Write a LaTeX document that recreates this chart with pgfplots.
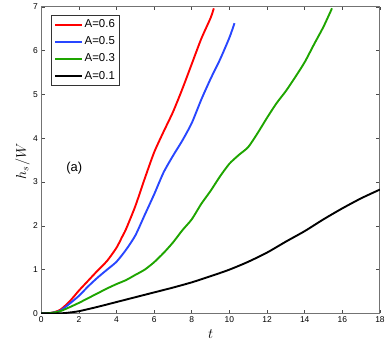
\documentclass[border=0pt]{standalone}
\usepackage{pgfplots}
\pgfplotsset{compat=1.18}
\usepackage{fontspec}
\setmainfont{Liberation Sans}
\definecolor{cred}{RGB}{255,0,0}
\definecolor{cblue}{RGB}{40,70,255}
\definecolor{cgreen}{RGB}{30,165,0}
\begin{document}
\begin{tikzpicture}
\begin{axis}[
  at={(0,0)}, anchor=south west,
  scale only axis,
  width=339.4bp, height=307bp,
  xmin=0, xmax=18, ymin=0, ymax=7,
  xtick={0,2,...,18}, ytick={0,1,...,7},
  tick align=inside,
  tick pos=both,
  major tick length=3.5bp,
  tick style={black!70, line width=0.6pt},
  axis line style={black!55, line width=1bp},
  /pgf/number format/assume math mode=true,
  tick label style={font=\fontsize{8.5}{10}\selectfont},
  xlabel={$t$}, ylabel={$h_s/W$},
  xlabel style={at={(axis description cs:0.5,-0.068)}, anchor=center, font=\fontsize{14}{16}\selectfont},
  ylabel style={at={(axis description cs:-0.0548,0.496)}, anchor=center, font=\fontsize{14}{16}\selectfont},
  legend style={at={(0.0277,0.974)}, anchor=north west, draw=black!80, line width=0.9pt,
    font=\fontsize{11.5}{13}\selectfont, inner xsep=3bp, inner ysep=2.5bp, row sep=3.6bp,
    cells={anchor=west}},
  legend image code/.code={\draw[#1, line width=2bp] (0bp,0bp) -- (26.7bp,0bp);},
  every axis plot/.append style={line width=1.9bp, smooth, tension=0.4},
]
\addplot[cred] coordinates {
(0,0) (0.5,0.01) (1,0.08) (1.5,0.27) (2,0.52) (2.5,0.75) (3,0.98) (3.5,1.20) (4,1.50) (4.3,1.75) (4.5,1.92) (5,2.45) (5.5,3.08) (6,3.68) (6.5,4.15) (7,4.60) (7.5,5.13) (8,5.70) (8.5,6.27) (9,6.75) (9.17,6.97)
};
\addlegendentry{A=0.6}
\addplot[cblue] coordinates {
(0,0) (0.5,0.01) (1,0.06) (1.5,0.22) (2,0.40) (2.5,0.62) (3,0.82) (3.5,1.00) (4,1.18) (4.5,1.45) (5,1.78) (5.5,2.25) (6,2.72) (6.5,3.22) (7,3.60) (7.5,3.95) (8,4.35) (8.5,4.88) (9,5.36) (9.5,5.80) (10,6.30) (10.27,6.63)
};
\addlegendentry{A=0.5}
\addplot[cgreen] coordinates {
(0,0) (0.5,0.01) (1,0.05) (1.5,0.14) (2,0.24) (2.5,0.35) (3,0.46) (3.5,0.57) (4,0.67) (4.5,0.76) (5,0.88) (5.5,1.0) (6,1.17) (6.5,1.38) (7,1.62) (7.5,1.90) (8,2.15) (8.5,2.50) (9,2.80) (9.5,3.13) (10,3.42) (10.5,3.62) (11,3.80) (11.5,4.12) (12,4.47) (12.5,4.80) (13,5.08) (13.5,5.40) (14,5.74) (14.5,6.15) (15,6.55) (15.45,6.97)
};
\addlegendentry{A=0.3}
\addplot[black] coordinates {
(0,0) (1,0) (1.5,0.02) (2,0.05) (3,0.15) (4,0.26) (5,0.37) (6,0.48) (7,0.59) (8,0.71) (9,0.85) (10,1.0) (11,1.18) (12,1.39) (13,1.64) (14,1.88) (15,2.15) (16,2.40) (17,2.63) (18,2.83)
};
\addlegendentry{A=0.1}
\node[font=\fontsize{13}{15}\selectfont] at (axis cs:1.75,3.32) {(a)};
\end{axis}
\path[use as bounding box] (-41.3bp,-32bp) rectangle (346.7bp,314bp);
\end{tikzpicture}
\end{document}
